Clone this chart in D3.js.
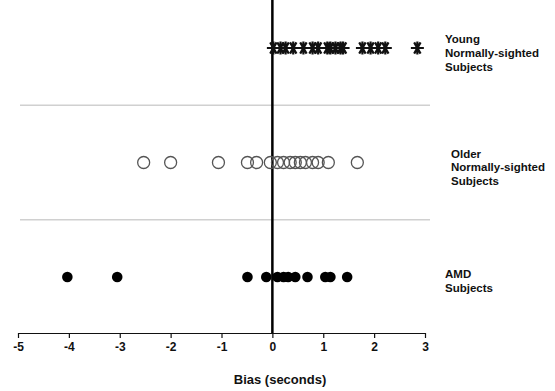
<!DOCTYPE html>
<meta charset="utf-8">
<script src="https://d3js.org/d3.v7.min.js"></script>
<style>
  body { margin: 0; background: #fff; }
  text { font-family: "Liberation Sans", Arial, sans-serif; font-weight: bold; fill: #111; }
</style>
<svg id="chart"></svg>
<script>

// values (bias in seconds)
let groups = ["Young", "Older", "AMD"];
let young = [0.02, 0.16, 0.26, 0.41, 0.61, 0.79, 0.90, 1.08, 1.14, 1.24, 1.34, 1.39, 1.77, 1.93, 2.08, 2.22, 2.85];
let older = [-2.53, -2.0, -1.06, -0.49, -0.31, -0.04, 0.10, 0.22, 0.35, 0.45, 0.55, 0.65, 0.79, 0.90, 1.10, 1.67];
let amd = [-4.03, -3.05, -0.49, -0.12, 0.10, 0.22, 0.31, 0.45, 0.69, 1.04, 1.14, 1.47];
let groupLabels = [
  ["Young", "Normally-sighted", "Subjects"],
  ["Older", "Normally-sighted", "Subjects"],
  ["AMD", "Subjects"]
];
let tickValues = [-5, -4, -3, -2, -1, 0, 1, 2, 3];

let width = 555, height = 391;
let svg = d3.select("#chart").attr("width", width).attr("height", height);

let x = d3.scaleLinear().domain([-5, 3]).range([18, 425]);
let y = d3.scalePoint().domain(groups).range([48, 277]);
let axisY = 333;

// grey separators between the groups
let seps = [(y("Young") + y("Older")) / 2, (y("Older") + y("AMD")) / 2];
svg.selectAll(".sep")
  .data(seps)
  .enter().append("line")
    .attr("x1", 20).attr("x2", 430)
    .attr("y1", d => d).attr("y2", d => d)
    .style("stroke", "#d0d0d0")
    .style("stroke-width", 1.5);

// x axis
let axis = svg.append("g")
  .attr("transform", "translate(0," + axisY + ")")
  .call(d3.axisBottom(x).tickValues(tickValues).tickSize(5).tickSizeOuter(0)
    .tickFormat(d => d < 0 ? "-" + Math.abs(d) : d));
axis.select(".domain").style("stroke", "#111").style("stroke-width", 1.2);
axis.selectAll(".tick line").style("stroke", "#111").style("stroke-width", 1.2);
axis.selectAll(".tick text")
  .attr("y", 9)
  .style("font-size", "12px")
  .style("font-family", "'Liberation Sans', Arial, sans-serif")
  .style("font-weight", "bold")
  .style("fill", "#111");

svg.append("text")
  .attr("x", 280).attr("y", 384)
  .attr("text-anchor", "middle")
  .style("font-size", "13px")
  .text("Bias (seconds)");

// zero line
svg.append("line")
  .attr("x1", x(0)).attr("x2", x(0))
  .attr("y1", 0).attr("y2", axisY)
  .style("stroke", "#000")
  .style("stroke-width", 2.5);

// young: asterisks
let star = "M-6.5,0L6.5,0M-3.2,-5.6L3.2,5.6M-3.2,5.6L3.2,-5.6M0,-6.5L0,6.5";
svg.selectAll(".young")
  .data(young)
  .enter().append("path")
    .attr("transform", d => "translate(" + x(d) + "," + y("Young") + ")")
    .attr("d", star)
    .style("stroke", "#111")
    .style("stroke-width", 2.2)
    .style("fill", "none");

// older: open circles
svg.selectAll(".older")
  .data(older)
  .enter().append("circle")
    .attr("cx", d => x(d)).attr("cy", y("Older"))
    .attr("r", 6)
    .style("fill", "none")
    .style("stroke", "#555")
    .style("stroke-width", 1.3);

// AMD: filled dots
svg.selectAll(".amd")
  .data(amd)
  .enter().append("circle")
    .attr("cx", d => x(d)).attr("cy", y("AMD"))
    .attr("r", 5.3)
    .style("fill", "#000");

// group labels on the right
let labelPos = [{x: 445, dy: -5}, {x: 451, dy: -5}, {x: 445, dy: 1}];
groups.forEach(function(g, i) {
  let t = svg.append("text")
    .attr("x", labelPos[i].x)
    .attr("y", y(g) + labelPos[i].dy)
    .style("font-size", "11.5px");
  t.selectAll("tspan")
    .data(groupLabels[i])
    .enter().append("tspan")
      .attr("x", labelPos[i].x)
      .attr("dy", (d, j) => j == 0 ? 0 : 13.8)
      .text(d => d);
});

</script>
